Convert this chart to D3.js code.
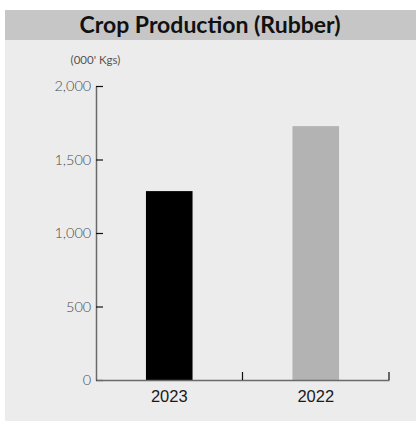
<!DOCTYPE html>
<html><head><meta charset="utf-8">
<script src="https://cdn.jsdelivr.net/npm/d3@7"></script>
<style>body{margin:0;background:#fff;}svg{display:block;}</style>
</head><body>
<svg id="c" width="416" height="421"></svg>
<script>
const categories = ["2023", "2022"];
const values = [1285, 1727];
const barColors = ["#000000", "#b3b3b3"];
const yTicks = [0, 500, 1000, 1500, 2000];
const title = "Crop Production (Rubber)";
const unitLabel = "(000' Kgs)";

const svg = d3.select("#c");
svg.append("rect").attr("x", 5).attr("y", 10).attr("width", 411).attr("height", 411).attr("fill", "#ececec");
svg.append("rect").attr("x", 5).attr("y", 10).attr("width", 411).attr("height", 30).attr("fill", "#c6c6c6");
svg.append("text").attr("x", 210).attr("y", 33).attr("text-anchor", "middle")
  .attr("font-family", "Lato").attr("font-weight", "bold").attr("font-size", 23).attr("fill", "#111").text(title);
svg.append("text").attr("x", 95.5).attr("y", 64).attr("text-anchor", "middle")
  .attr("font-family", "Lato").attr("font-size", 11.5).attr("fill", "#555").text(unitLabel);

const x0 = 96, x1 = 389, yTop = 86, yBot = 380;
const x = d3.scaleBand().domain(categories).range([x0, x1]).paddingInner(0.682).paddingOuter(0.341);
const xs = d3.scaleBand().domain(categories).range([x0, x1]).padding(0);
const y = d3.scaleLinear().domain([0, 2000]).range([yBot, yTop]);

svg.selectAll("rect.bar").data(values).enter().append("rect").attr("class", "bar")
  .attr("x", (d, i) => x(categories[i])).attr("width", x.bandwidth())
  .attr("y", d => y(d)).attr("height", d => y(0) - y(d))
  .attr("fill", (d, i) => barColors[i]);

// y axis
const ya = svg.append("g").attr("transform", `translate(${x0},0)`)
  .call(d3.axisLeft(y).tickValues(yTicks).tickFormat(d3.format(",")).tickSizeInner(-7).tickSizeOuter(0).tickPadding(12));
ya.select(".domain").attr("stroke", "#6a6a6a").attr("stroke-width", 1.5);
ya.selectAll(".tick line").attr("stroke", "#111").attr("stroke-width", 1.2);
ya.selectAll(".tick text").attr("font-family", "Lato").attr("font-weight", 300).attr("font-size", 14.5).attr("fill", "#4a4a4a").attr("dx", "0.5em");

// x axis
const xa = svg.append("g").attr("transform", `translate(0,${yBot})`)
  .call(d3.axisBottom(xs).tickSize(0).tickPadding(10));
xa.select(".domain").attr("stroke", "#6a6a6a").attr("stroke-width", 1.5);
xa.selectAll(".tick text").attr("font-family", "Liberation Sans, Arial").attr("font-size", 16.5).attr("fill", "#1a1a1a");
xa.selectAll(".tick line").remove();
// separators at band boundaries
svg.selectAll("line.sep").data(categories).enter().append("line").attr("class", "sep")
  .attr("x1", d => xs(d) + xs.bandwidth()).attr("x2", d => xs(d) + xs.bandwidth())
  .attr("y1", yBot).attr("y2", yBot - 8).attr("stroke", "#111").attr("stroke-width", 1.2);
</script>
</body></html>
